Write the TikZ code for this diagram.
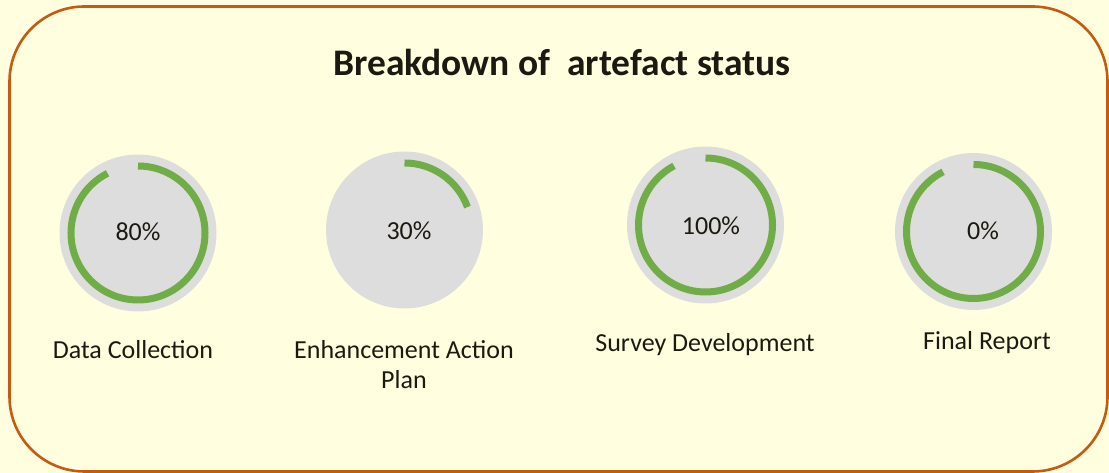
\documentclass[tikz,border=0pt]{standalone}
\usepackage{fontspec}
\setmainfont{Carlito}
\definecolor{bg}{HTML}{FFFFDF}
\definecolor{ringgrey}{HTML}{DDDDDD}
\definecolor{ringgreen}{HTML}{70AD47}
\definecolor{frame}{HTML}{C55A11}
\definecolor{ink}{HTML}{1C1A10}
\begin{document}
\begin{tikzpicture}[x=1pt,y=1pt,
  disc/.style={circle, fill=ringgrey, minimum size=157pt, inner sep=0pt},
  pct/.style={text=ink, font=\fontsize{26}{31}\selectfont},
  lbl/.style={text=ink, font=\fontsize{26}{30}\selectfont, align=center},
  prog/.style={draw=ringgreen, line width=7pt}]
\fill[bg] (0,0) rectangle (1109,473);
\useasboundingbox (0,0) rectangle (1109,473);
\draw[frame, line width=2.6pt, rounded corners=75pt] (9.5,1.5) rectangle (1107.5,466.5);
\node[text=ink, font=\bfseries\fontsize{37.5}{40}\selectfont] (title) at (562,411) {Breakdown of\ \ artefact status};
% discs
\node[disc] (d1) at (138,240) {};
\node[disc] (d2) at (404.5,243) {};
\node[disc] (d3) at (705.5,248) {};
\node[disc] (d4) at (973.5,241.5) {};
% progress arcs
\draw[prog] ([shift={(90:67)}]d1.center) arc[start angle=90, end angle=-243, radius=67];
\draw[prog] ([shift={(90:67)}]d2.center) arc[start angle=90, end angle=20, radius=67];
\draw[prog] ([shift={(90:67)}]d3.center) arc[start angle=90, end angle=-242, radius=67];
\draw[prog] ([shift={(90:67)}]d4.center) arc[start angle=90, end angle=-243, radius=67];
% percentages
\node[pct] (p1) at (138,241) {80\%};
\node[pct] (p2) at (409,242) {30\%};
\node[pct] (p3) at (711,247) {100\%};
\node[pct] (p4) at (983,242) {0\%};
% labels
\node[lbl] (l1) at (133,123) {Data Collection};
\node[lbl] (l2) at (404,108) {Enhancement Action\\Plan};
\node[lbl] (l3) at (705,128) {Survey Development};
\node[lbl] (l4) at (987,130) {Final Report};
\end{tikzpicture}
\end{document}
